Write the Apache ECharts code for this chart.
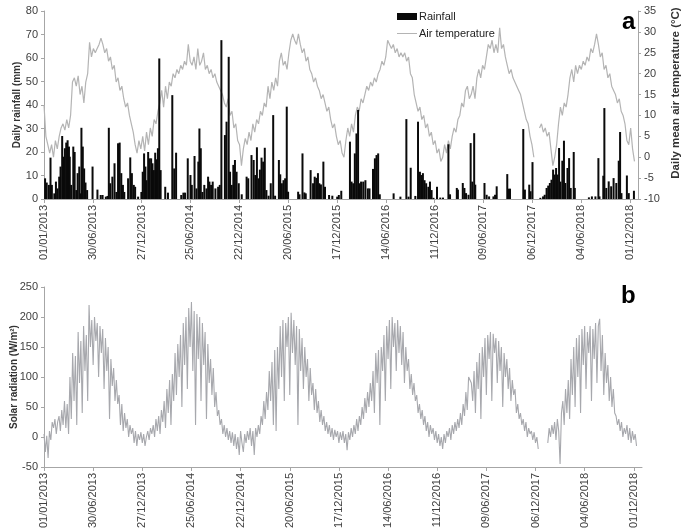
<!DOCTYPE html>
<html><head><meta charset="utf-8">
<script src="https://cdn.jsdelivr.net/npm/echarts@6/dist/echarts.min.js"></script>
<style>html,body{margin:0;padding:0;background:#fff}#c{width:685px;height:530px}</style>
</head><body><div id="c"></div>
<script>
// ---- tick labels (every 180 days from 01/01/2013) ----
const tickLabels = ['01/01/2013','30/06/2013','27/12/2013','25/06/2014','22/12/2014','20/06/2015',
  '17/12/2015','14/06/2016','11/12/2016','09/06/2017','06/12/2017','04/06/2018','01/12/2018'];
const tickStepDays = 180;
const lastDay = 2190;

// ---- daily mean air temperature (°C), read every 7 days from 01/01/2013 ----
const tempStepDays = 7;
const airTemperature = [
  12.5, 5, 3, 1, 3, 0, 4, 2, 5, 7,
  8, 6.5, 9, 7, 10, 18, 19, 17, 19.5, 15,
  17, 13, 18, 20, 27.5, 24, 26, 25, 26, 27,
  28.5, 27, 25, 26, 23, 24, 21, 22, 18, 19,
  16, 17, 14, 12, 13, 10, 8, 6, 3, 1,
  4, 2, 5, 1.5, 6, 3, 7, 5, 9, 8,
  11, 13, 16, 12, 17, 14, 18, 17, 20, 19,
  21, 20, 22, 21, 23, 22, 27, 23, 22, 24,
  21, 26, 22, 23, 25, 21, 22, 20, 21, 19,
  20, 18, 17, 16, 15, 13, 12, 14, 10, 11,
  7, 8, 4, 3, -2, 2, 4.5, 3, 6, 4,
  8, 6, 9, 8, 11, 10, 13, 12, 17, 14,
  18, 16, 19, 17, 23, 25, 22, 23, 21, 25,
  28, 29.5, 28, 27, 29.5, 27, 25, 26, 23, 24,
  21, 20, 18, 19, 17, 16, 14, 15, 13, 11,
  12, 9, 7, 8, 5, 3, 4, 1, 0, 4,
  7, 5, 8, 6, 10, 12, 11, 14, 13, 15,
  17, 16, 18, 17, 19, 18, 20, 21, 23, 22,
  24, 28, 27, 26, 27, 25, 26, 24, 25, 24,
  25, 23, 24, 20, 19, 15, 13, 11, 12, 9,
  10, 7, 8, 5, 6, 3, 4, 1, 2, -1,
  0, 3, 1, 4, 2, 5, 7, 6, 9, 10,
  13, 12, 16, 17, 14, 15, 17, 14, 19, 21,
  19, 22, 21, 24, 27, 26, 28, 25, 27, 25,
  31, 26, 27, 24, 22, 20, 21, 19, 18, 17,
  16, 15, 13, 11, 9, 8, 5, 3, 0, null,
  null, 7, 8, 6, 7, 5, 6, 2, -2, 0,
  3, 8, 12, 10, 13, 12, 15, 19, 21, 18,
  22, 20, 22, 21, 23, 22, 24, 23, 26, 25,
  27, 29.5, 27, 24, 25, 21, 22, 19, 20, 17,
  16, 15, 13, 14, 11, 10, 8, 4, 3, 7,
  2, -1
];

// ---- daily rainfall (mm): day number since 01/01/2013 and amount ----
const rainDay = [
  4,10,18,24,29,38,44,50,56,61,67,72,77,82,87,92,95,100,108,113,119,124,130,135,138,143,148,153,159,179,
  197,209,216,228,234,239,244,252,260,267,273,279,285,291,296,310,318,324,331,336,347,359,364,369,374,378,384,389,395,400,
  405,410,415,420,425,430,447,457,473,480,487,506,514,520,530,540,545,555,562,569,573,578,584,591,599,605,610,616,622,632,
  642,648,654,667,673,681,686,692,698,704,710,718,729,747,753,765,773,779,785,791,796,802,808,814,820,828,836,845,852,866,
  871,877,883,889,895,900,937,942,953,960,965,983,992,998,1004,1010,1015,1021,1030,1036,1051,1063,1081,1087,1096,1128,1134,1140,1146,1152,
  1158,1164,1169,1177,1185,1194,1200,1213,1220,1226,1232,1238,1289,1314,1336,1344,1352,1369,1379,1386,1391,1397,1403,1409,1417,1423,1429,1436,1449,1461,
  1471,1491,1497,1522,1526,1544,1550,1556,1565,1573,1579,1586,1590,1624,1632,1641,1657,1663,1669,1708,1712,1718,1767,1773,1789,1794,1801,1830,1840,1846,
  1853,1859,1865,1871,1877,1883,1888,1893,1899,1904,1911,1917,1922,1930,1936,1942,1953,1957,2009,2020,2033,2044,2048,2062,2066,2073,2082,2091,2100,2110,
  2119,2124,2129,2149,2156,2175
];
const rainMm = [
  8.8,7,6,17.6,6,2.4,7.4,4.5,9.5,13.8,26.8,18,21.6,24,25,22.3,18,6,22.3,20,3.8,11,13.8,2.4,30.3,22.3,13,7,3.8,13.8,
  4,1.7,1.7,1,1.3,30.3,6.7,9.5,15.2,3,23.7,24,11,6,3,8.8,17.7,11,6,5.2,1,3,11.6,19.4,13.8,8,20,17.3,17.3,15.2,
  12.3,19.7,16.9,21.6,59.8,12.3,5.2,2.7,44.2,13,19.7,1.7,2.7,2.7,17.3,10.2,6,18.3,4.5,15.9,30,21.6,3,6,4.5,9.5,7.4,6,7.4,4.5,
  5.2,6,67.6,27.2,32.9,60.5,11.6,6,14.5,16.6,11.6,6.7,2,9.5,8.8,18.7,16.6,10.2,22,8.8,12.5,17.6,15.9,21.8,3.8,1.4,6.7,35.7,1.4,16.6,
  10.5,6.7,8,8.8,39.3,3.1,3.1,2,19.4,2.8,2.4,12.3,6.7,9.5,9,11,6.7,6.2,15.9,5.2,1.7,1.4,1,1.7,3.5,24.4,7.4,6.7,19.4,27.9,
  37.9,6.7,7.4,7.4,8,4.5,4.5,12.8,17.3,18.7,19.4,2,2.4,1,34,1,13.3,1.3,32.9,11.6,10.2,11,8,6.7,5.2,7.4,3.8,0.5,5.2,0.6,
  0.6,23.3,2,4.7,4,6.8,4.7,2.5,1.8,23.8,7.4,28,6.1,6.8,1.8,1.1,1.1,1.8,5.4,10.6,4.4,4.4,29.8,4,6.1,3.3,15.7,0.5,1.1,1.8,
  4.7,5.7,6.8,8.2,12.5,10.4,13.2,10.4,21.7,7.4,16.3,24.8,6.8,13.2,17.4,4.7,20,4.7,0.7,1.1,1.1,17.4,1.1,9.9,38.7,4.7,7.5,5.4,8.9,6.8,
  16.3,28.5,2.5,10,2.5,3.5
];

// ---- solar radiation (W/m²), read every 5 days, one list per year ----
const solarStepDays = 5;
const solarYearStart = [0, 365, 730, 1095, 1460, 1825];
const solar2013 = [
  5, -25, 2, -35, 10, -5, 25, 15, 30, 5,
  25, 35, 10, 45, 20, 60, 15, 55, 5, 100,
  30, 140, 60, 135, 20, 175, 90, 160, 40, 185,
  110, 170, 60, 220, 150, 195, 120, 200, 160, 190,
  100, 185, 140, 180, 80, 165, 110, 150, 30, 130,
  85, 115, 60, 95, 55, 70, 20, 55, 10, 40,
  15, 30, 0, 20, 5, 15, -10, 10, -15, 5,
  -5, 8, -10];
const solar2014 = [
  5, -15, 0, 10, -5, 15, 5, 20, 0, 30,
  10, 35, 5, 45, 25, 60, 15, 80, 40, 95,
  20, 105, 60, 140, 70, 155, 100, 170, 50, 190,
  120, 200, 80, 215, 150, 225, 110, 210, 20, 205,
  130, 200, 60, 190, 120, 175, 30, 155, 90, 130,
  70, 115, 50, 75, 35, 45, 20, 30, 5, 20,
  0, 15, -5, 10, -10, 8, -15, 5, -20, 0,
  -30, 10, -10];
const solar2015 = [
  -25, 5, -10, 10, -5, 15, -15, 10, -30, 15,
  0, 20, 5, 35, 20, 60, 30, 75, 45, 110,
  60, 125, 20, 145, 10, 150, 80, 185, 100, 195,
  60, 190, 150, 200, 70, 207, 140, 195, 120, 185,
  20, 180, 110, 165, 80, 150, 100, 130, 60, 115,
  70, 90, 45, 80, 40, 60, 25, 45, 20, 35,
  10, 25, 5, 20, 0, 15, -5, 12, 0, 10,
  -10, 8, -5];
const solar2016 = [
  10, -10, 5, -22, 8, -5, 15, 0, 20, 5,
  30, 10, 35, 20, 50, 30, 65, 40, 75, 50,
  90, 60, 110, 40, 140, 90, 145, 20, 150, 110,
  170, 60, 185, 130, 195, 80, 200, 150, 190, 110,
  195, 140, 185, 120, 175, 90, 150, 110, 130, 80,
  105, 70, 90, 60, 70, 40, 55, 30, 45, 20,
  35, 10, 25, 0, 20, 5, 15, -5, 10, -10,
  5, -15, 0];
const solar2017 = [
  -20, 5, -10, 10, 0, 15, -5, 20, 5, 25,
  10, 30, 15, 40, 20, 55, 35, 75, 45, 100,
  95, 90, 60, 110, 40, 125, 80, 140, 30, 150,
  100, 165, 70, 170, 130, 175, 60, 172, 140, 165,
  90, 160, 110, 150, 50, 140, 100, 130, 80, 115,
  60, 95, 70, 80, 40, 55, 30, 40, 20, 30,
  10, 25, 0, 15, 5, 10, -5, 8, -10, 0,
  -20, null, null];
const solar2018 = [
  null, null, null, null, -10, 15, 0, 20, 5, 25,
  -5, 30, 10, -45, 40, 60, 20, 80, 40, 95,
  30, 130, 70, 150, 50, 165, 100, 170, 40, 180,
  120, 185, 80, 175, 140, 185, 60, 180, 130, 190,
  90, 185, 197, 110, 170, 70, 140, 90, 120, 60,
  100, 50, 80, 40, 35, 20, 30, 10, 25, 0,
  15, 5, 20, -5, 15, -10, 10, -5, 5, -15];
const solarYears = [solar2013, solar2014, solar2015, solar2016, solar2017, solar2018];

// ---- build library data ----
const tickDays = tickLabels.map((_, i) => i * tickStepDays);
const tempData = airTemperature.map((v, i) => [i * tempStepDays, v === null ? '-' : v]);
const rainData = rainDay.map((d, i) => [d, rainMm[i]]);
const solarData = [];
solarYears.forEach((arr, y) => arr.forEach((v, i) => {
  solarData.push([solarYearStart[y] + i * solarStepDays, v === null ? '-' : v]);
}));

const FONT = 'Liberation Sans, Arial, sans-serif';
const axisGray = '#a6a6a6';
const labelColor = '#404040';

function xAxisCfg(gridIndex) {
  return {
    type: 'value', gridIndex, min: 0, max: lastDay, interval: tickStepDays,
    splitLine: { show: false },
    axisLine: { onZero: false, lineStyle: { color: axisGray, width: 1 } },
    axisTick: { length: 4, lineStyle: { color: axisGray }, customValues: tickDays },
    axisLabel: {
      customValues: tickDays, rotate: 90, margin: 6, fontSize: 11, color: labelColor, fontFamily: FONT,
      formatter: v => tickLabels[Math.round(v / tickStepDays)] || ''
    }
  };
}
function yAxisCfg(gridIndex, min, max, interval, name, position, nameGap, nameSize, namePad) {
  return {
    type: 'value', gridIndex, min, max, interval, position,
    name, nameLocation: 'middle', nameGap, nameRotate: 90, nameMoveOverlap: false,
    nameTextStyle: { fontWeight: 'bold', fontSize: nameSize, color: '#333', fontFamily: FONT, padding: namePad || 0 },
    splitLine: { show: false },
    axisLine: { show: true, onZero: false, lineStyle: { color: axisGray, width: 1 } },
    axisTick: { show: true, length: 3, lineStyle: { color: axisGray } },
    axisLabel: { fontSize: 11, color: labelColor, fontFamily: FONT, margin: 6 }
  };
}

const chart = echarts.init(document.getElementById('c'), null, { renderer: 'canvas' });
chart.setOption({
  animation: false,
  backgroundColor: '#fff',
  textStyle: { fontFamily: FONT },
  grid: [
    { left: 44, top: 11, width: 594, height: 188, outerBoundsMode: 'none', containLabel: false },
    { left: 44, top: 287, width: 598, height: 180, outerBoundsMode: 'none', containLabel: false }
  ],
  xAxis: [xAxisCfg(0), xAxisCfg(1)],
  yAxis: [
    yAxisCfg(0, 0, 80, 10, 'Daily rainfall (mm)', 'left', 22, 10),
    yAxisCfg(0, -10, 35, 5, 'Daily mean air temperature (°C)', 'right', 32, 11.5, [0, 0, 0, 24]),
    yAxisCfg(1, -50, 250, 50, 'Solar radiation (W/m²)', 'left', 25, 10)
  ],
  legend: {
    orient: 'vertical', left: 397, top: 11, padding: 0, itemGap: 6, itemWidth: 20, itemHeight: 7,
    textStyle: { fontSize: 11, color: '#222', fontFamily: FONT, padding: [0, 0, 0, -3] },
    data: [
      { name: 'Rainfall', icon: 'rect' },
      { name: 'Air temperature', icon: 'path://M0,0 L40,0 L40,2 L0,2 Z' }
    ]
  },
  series: [
    {
      name: 'Air temperature', type: 'line', xAxisIndex: 0, yAxisIndex: 1,
      data: tempData, symbol: 'none', connectNulls: false, z: 2,
      lineStyle: { color: '#b4b4b4', width: 1.2 }, itemStyle: { color: '#b4b4b4' }
    },
    {
      name: 'Rainfall', type: 'bar', xAxisIndex: 0, yAxisIndex: 0,
      data: rainData, barWidth: 2, z: 3, itemStyle: { color: '#0a0a0a' }
    },
    {
      name: 'Solar radiation', type: 'line', xAxisIndex: 1, yAxisIndex: 2,
      data: solarData, symbol: 'none', connectNulls: false,
      lineStyle: { color: '#a7a8ad', width: 1.1 }, itemStyle: { color: '#a7a8ad' }
    }
  ],
  graphic: [
    { type: 'text', left: 622, top: 10, style: { text: 'a', font: 'bold 24px ' + FONT, fill: '#000' } },
    { type: 'text', left: 621, top: 284, style: { text: 'b', font: 'bold 24px ' + FONT, fill: '#000' } }
  ]
});
</script>
</body></html>
